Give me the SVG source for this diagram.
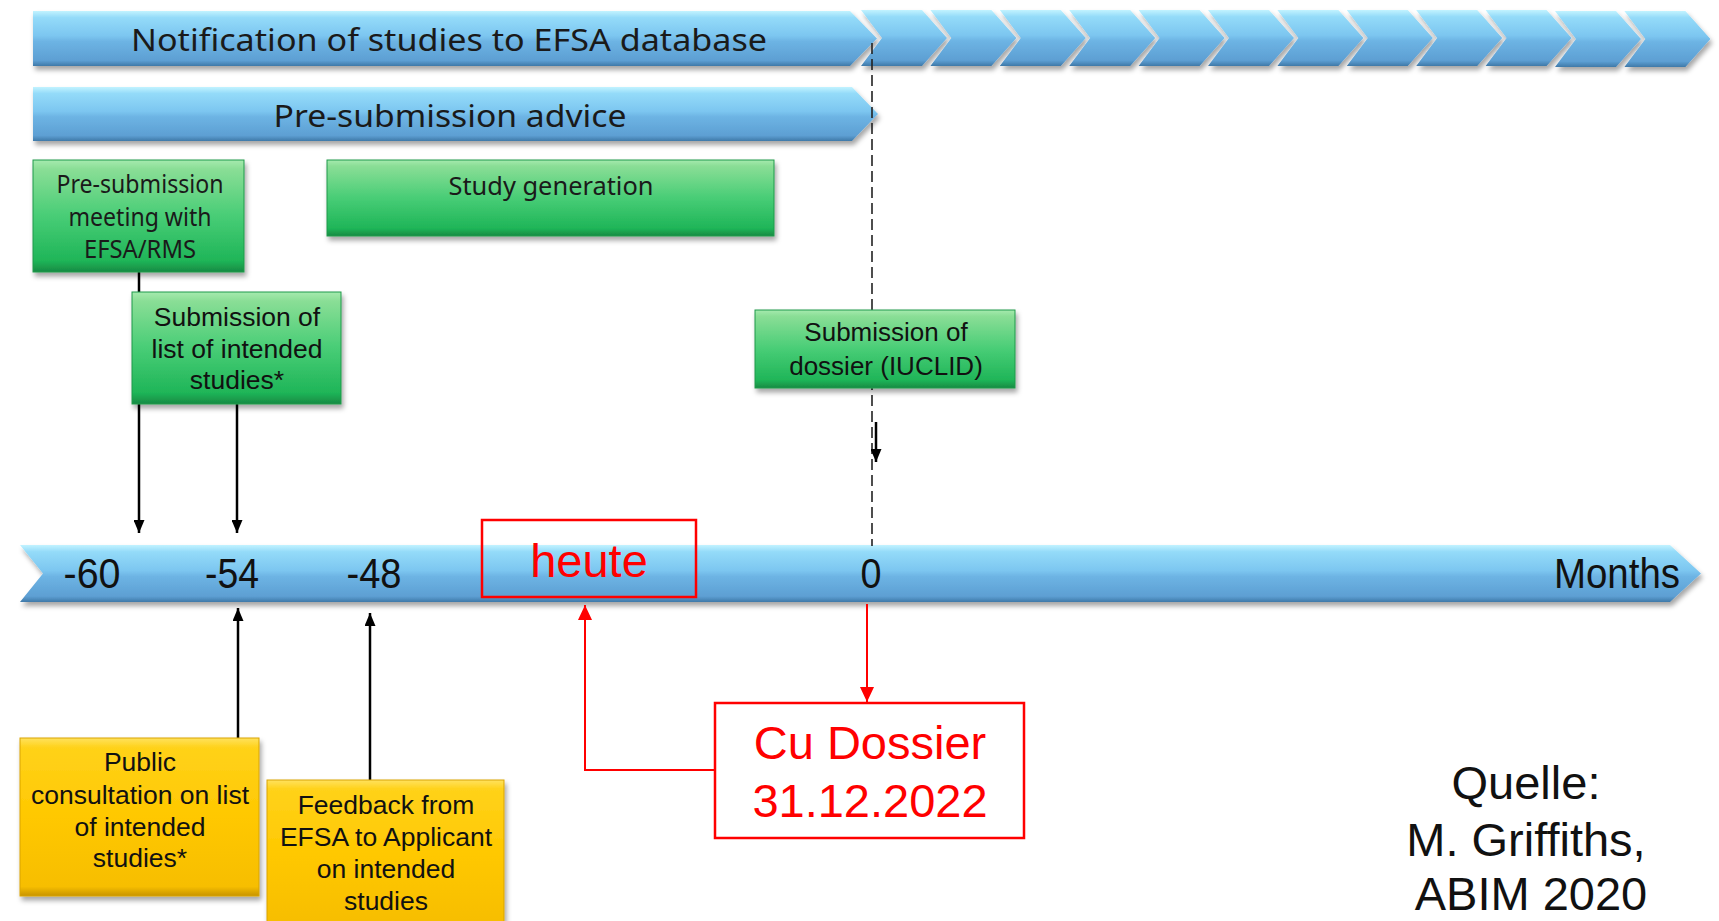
<svg xmlns="http://www.w3.org/2000/svg" width="1719" height="921" viewBox="0 0 1719 921">
<defs>
<linearGradient id="blue" x1="0" y1="0" x2="0" y2="1">
<stop offset="0" stop-color="#c2f3ff"/>
<stop offset="0.12" stop-color="#94dbf9"/>
<stop offset="0.45" stop-color="#7cc6f0"/>
<stop offset="0.55" stop-color="#6db4e4"/>
<stop offset="0.9" stop-color="#5d9fd3"/>
<stop offset="1" stop-color="#3f79a8"/>
</linearGradient>
<linearGradient id="green" x1="0" y1="0" x2="0" y2="1">
<stop offset="0" stop-color="#a6eaae"/>
<stop offset="0.08" stop-color="#8ade96"/>
<stop offset="0.5" stop-color="#48cd76"/>
<stop offset="0.9" stop-color="#1fb558"/>
<stop offset="1" stop-color="#178a43"/>
</linearGradient>
<linearGradient id="yellow" x1="0" y1="0" x2="0" y2="1">
<stop offset="0" stop-color="#ffe25e"/>
<stop offset="0.06" stop-color="#ffd21a"/>
<stop offset="0.5" stop-color="#ffc800"/>
<stop offset="0.94" stop-color="#f7be00"/>
<stop offset="1" stop-color="#c89400"/>
</linearGradient>
<filter id="shadow" x="-10%" y="-20%" width="120%" height="150%">
<feDropShadow dx="2" dy="4" stdDeviation="2.5" flood-color="#000" flood-opacity="0.35"/>
</filter>
<marker id="ah" viewBox="0 0 13 11" refX="13" refY="5.5" markerWidth="13" markerHeight="11" markerUnits="userSpaceOnUse" orient="auto">
<path d="M0,0 L13,5.5 L0,11 z" fill="#000"/>
</marker>
<marker id="ahr" viewBox="0 0 15 14" refX="15" refY="7" markerWidth="15" markerHeight="14" markerUnits="userSpaceOnUse" orient="auto">
<path d="M0,0 L15,7 L0,14 z" fill="#ff0000"/>
</marker>
</defs>
<style>
.bl{fill:url(#blue);filter:url(#shadow)}
.gr{fill:url(#green);stroke:#1e9a4a;stroke-width:1;filter:url(#shadow)}
.ye{fill:url(#yellow);stroke:#d9a400;stroke-width:1;filter:url(#shadow)}
.cal{font-family:"Noto Sans","Open Sans",sans-serif;fill:#1a1a1a;text-anchor:middle}
.ar{font-family:"Liberation Sans",Arial,sans-serif;fill:#111;text-anchor:middle}
.red{font-family:"Liberation Sans",Arial,sans-serif;fill:#ff0000;text-anchor:middle}
.blk{stroke:#000;stroke-width:2.5;fill:none}
.rl{stroke:#ff0000;stroke-width:2;fill:none}
</style>
<rect width="1719" height="921" fill="#fff"/>

<g id="notification">
<g class="bl">
<polygon points="33,11 850,11 877,38.5 850,66 33,66"/>
<polygon points="861.0,10 922.0,10 947.0,38 922.0,66 861.0,66 882.0,38"/>
<polygon points="930.4,10 991.4,10 1016.4,38 991.4,66 930.4,66 951.4,38"/>
<polygon points="999.8,10 1060.8,10 1085.8,38 1060.8,66 999.8,66 1020.8,38"/>
<polygon points="1069.2,10 1130.2,10 1155.2,38 1130.2,66 1069.2,66 1090.2,38"/>
<polygon points="1138.6,10 1199.6,10 1224.6,38 1199.6,66 1138.6,66 1159.6,38"/>
<polygon points="1208.0,10 1269.0,10 1294.0,38 1269.0,66 1208.0,66 1229.0,38"/>
<polygon points="1277.4,10 1338.4,10 1363.4,38 1338.4,66 1277.4,66 1298.4,38"/>
<polygon points="1346.8,10 1407.8,10 1432.8,38 1407.8,66 1346.8,66 1367.8,38"/>
<polygon points="1416.2,10 1477.2,10 1502.2,38 1477.2,66 1416.2,66 1437.2,38"/>
<polygon points="1485.6,10 1546.6,10 1571.6,38 1546.6,66 1485.6,66 1506.6,38"/>
<polygon points="1555.0,11 1616.0,11 1641.0,39 1616.0,67 1555.0,67 1576.0,39"/>
<polygon points="1624.4,11 1685.4,11 1710.4,39 1685.4,67 1624.4,67 1645.4,39"/>
</g>
<text class="cal" x="449" y="51" font-size="31" textLength="636" lengthAdjust="spacingAndGlyphs">Notification of studies to EFSA database</text>
</g>

<g id="presubmission-advice">
<polygon class="bl" points="33,87 852,87 878,114 852,141 33,141"/>
<text class="cal" x="450" y="127" font-size="31" textLength="353" lengthAdjust="spacingAndGlyphs">Pre-submission advice</text>
</g>

<g id="timeline">
<polygon class="bl" points="20,545 1670,545 1701,573.5 1670,602 20,602 43,573.5"/>
<text class="ar" x="92" y="588" font-size="42" textLength="57" lengthAdjust="spacingAndGlyphs">-60</text>
<text class="ar" x="232" y="588" font-size="42" textLength="54" lengthAdjust="spacingAndGlyphs">-54</text>
<text class="ar" x="374" y="588" font-size="42" textLength="55" lengthAdjust="spacingAndGlyphs">-48</text>
<text class="ar" x="871" y="588" font-size="42" textLength="21" lengthAdjust="spacingAndGlyphs">0</text>
<text class="ar" x="1617" y="588" font-size="42" textLength="126" lengthAdjust="spacingAndGlyphs">Months</text>
</g>

<g id="connectors">
<line class="blk" x1="139" y1="272" x2="139" y2="533" marker-end="url(#ah)"/>
<line class="blk" x1="237" y1="404" x2="237" y2="533" marker-end="url(#ah)"/>
<line class="blk" x1="238" y1="738" x2="238" y2="608" marker-end="url(#ah)"/>
<line class="blk" x1="370" y1="780" x2="370" y2="613" marker-end="url(#ah)"/>
<line x1="872" y1="43" x2="872" y2="546" stroke="#222" stroke-width="1.6" stroke-dasharray="11 5"/>
<line class="blk" x1="876" y1="422" x2="876" y2="462" marker-end="url(#ah)"/>
<polyline class="rl" points="715,770 585,770 585,605" marker-end="url(#ahr)"/>
<line class="rl" x1="867" y1="604" x2="867" y2="702" marker-end="url(#ahr)"/>
</g>

<g id="presubmission-meeting">
<rect class="gr" x="33" y="160" width="211" height="112"/>
<text class="cal" font-size="26" x="140" y="193" textLength="167" lengthAdjust="spacingAndGlyphs">Pre-submission</text>
<text class="cal" font-size="26" x="140" y="225.5" textLength="143" lengthAdjust="spacingAndGlyphs">meeting with</text>
<text class="cal" font-size="26" x="140" y="258" textLength="112" lengthAdjust="spacingAndGlyphs">EFSA/RMS</text>
</g>

<g id="study-generation">
<rect class="gr" x="327" y="160" width="447" height="76"/>
<text class="cal" font-size="26" x="551" y="195" textLength="205" lengthAdjust="spacingAndGlyphs">Study generation</text>
</g>

<g id="submission-list">
<rect class="gr" x="132" y="292" width="209" height="112"/>
<text class="ar" font-size="26.5" x="237" y="326">Submission of</text>
<text class="ar" font-size="26.5" x="237" y="358">list of intended</text>
<text class="ar" font-size="26.5" x="237" y="389">studies*</text>
</g>

<g id="submission-dossier">
<rect class="gr" x="755" y="310" width="260" height="78"/>
<text class="ar" font-size="26" x="886" y="341">Submission of</text>
<text class="ar" font-size="26" x="886" y="375">dossier (IUCLID)</text>
</g>

<g id="heute">
<rect x="482" y="520" width="214" height="77" fill="none" stroke="#ff0000" stroke-width="2.5"/>
<text class="red" font-size="47" x="589" y="577">heute</text>
</g>

<g id="public-consultation">
<rect class="ye" x="20" y="738" width="239" height="158"/>
<text class="ar" font-size="26.5" x="140" y="771">Public</text>
<text class="ar" font-size="26.5" x="140" y="804">consultation on list</text>
<text class="ar" font-size="26.5" x="140" y="836">of intended</text>
<text class="ar" font-size="26.5" x="140" y="867">studies*</text>
</g>

<g id="feedback">
<rect class="ye" x="267" y="780" width="237" height="150"/>
<text class="ar" font-size="26.5" x="386" y="814">Feedback from</text>
<text class="ar" font-size="26.5" x="386" y="846">EFSA to Applicant</text>
<text class="ar" font-size="26.5" x="386" y="878">on intended</text>
<text class="ar" font-size="26.5" x="386" y="910">studies</text>
</g>

<g id="cu-dossier">
<rect x="715" y="703" width="309" height="135" fill="#fff" stroke="#ff0000" stroke-width="2.5"/>
<text class="red" font-size="47" x="870" y="759">Cu Dossier</text>
<text class="red" font-size="47" x="870" y="817">31.12.2022</text>
</g>

<g id="source">
<text class="ar" font-size="47" x="1526" y="799" fill="#000">Quelle:</text>
<text class="ar" font-size="47" x="1526" y="856" fill="#000">M. Griffiths,</text>
<text class="ar" font-size="47" x="1531" y="910" fill="#000">ABIM 2020</text>
</g>
</svg>
